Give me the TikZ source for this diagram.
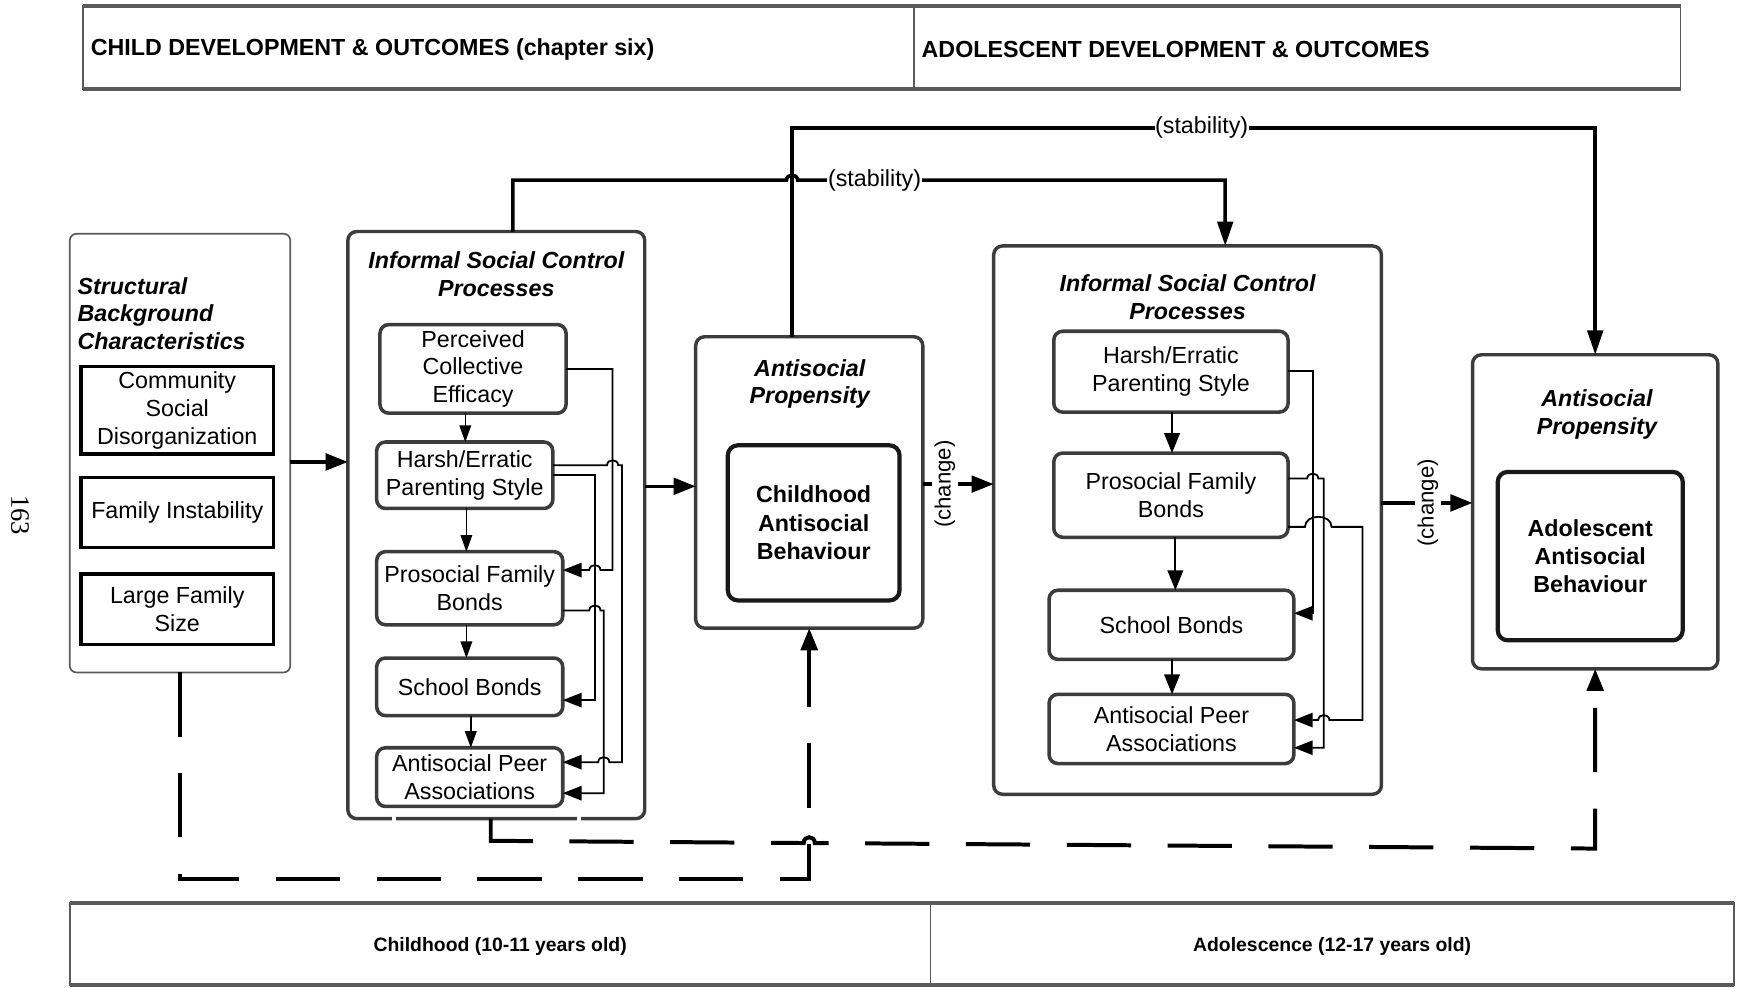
\documentclass[tikz,border=0pt]{standalone}
\usepackage{fontspec}
\setmainfont{Liberation Sans}
\newfontfamily\pagenofont{Liberation Serif}
\usetikzlibrary{arrows.meta}
\definecolor{edge}{HTML}{3C3C3C}
\definecolor{rulegray}{HTML}{5A5A5A}
% small semicircular hop over a crossing vertical line at x=#1 on level y=#2
\newcommand{\hopright}[2]{-- (#1-5,#2) .. controls (#1-5,#2-6) and (#1+5,#2-6) .. (#1+5,#2)}
\newcommand{\hopleft}[2]{-- (#1+5,#2) .. controls (#1+5,#2-6) and (#1-5,#2-6) .. (#1-5,#2)}
\begin{document}
\begin{tikzpicture}[x=1pt,y=-1pt,
  every node/.style={inner sep=0pt, outer sep=0pt},
  body/.style={font=\fontsize{21}{25}\selectfont, align=center},
  heading/.style={font=\fontsize{21}{25}\selectfont\bfseries\itshape, align=center},
  core/.style={font=\fontsize{21}{25.5}\selectfont\bfseries, align=center},
  hdr/.style={font=\fontsize{21}{24}\selectfont\bfseries},
  foot/.style={font=\fontsize{17.5}{21}\selectfont\bfseries},
  cell/.style={draw=rulegray, line width=1.6pt},
  band/.style={draw=rulegray, line width=3.6pt},
  panel/.style={draw=edge, line width=3.1pt, rounded corners=8pt},
  factor/.style={draw=edge, line width=3.2pt, rounded corners=8pt, body},
  bgfactor/.style={draw=black, line width=3.1pt, body},
  corebox/.style={draw=black!90, line width=3.8pt, rounded corners=9pt, core},
  thickline/.style={line width=3.2pt},
  thickarrow/.style={line width=3.2pt, -{Triangle[length=20pt,width=15pt]}},
  feed/.style={line width=1.6pt, -{Triangle[length=17pt,width=13pt]}},
  innerarrow/.style={line width=1.3pt, -{Triangle[length=15pt,width=10.5pt]}},
  stackarrow/.style={line width=2pt, -{Triangle[length=18pt,width=14pt]}},
  dashedlink/.style={line width=3.6pt, dash pattern=on 58pt off 33pt, -{Triangle[length=20pt,width=15pt]}},
  stablbl/.style={font=\fontsize{21}{25}\selectfont, fill=white, inner xsep=0.5pt, inner ysep=2pt},
  changelbl/.style={font=\fontsize{20}{24}\selectfont, rotate=90, fill=white, inner sep=2.5pt}
]
\useasboundingbox (0,0) rectangle (1568,891);

% ---------- period header ----------
\node[cell, minimum width=750pt, minimum height=75pt] (hchild) at (450,42.5) {};
\node[cell, minimum width=692pt, minimum height=75pt] (hadol) at (1171,42.5) {};
\draw[band] (hchild.north west) -- (hadol.north east);
\draw[band] (hchild.south west) -- (hadol.south east);
\node[hdr, anchor=west] (hchildtxt) at ([xshift=7pt,yshift=-2.5pt]hchild.west) {CHILD DEVELOPMENT \& OUTCOMES (chapter six)};
\node[hdr, anchor=west] (hadoltxt) at ([xshift=7pt,yshift=-2.5pt]hadol.west) {ADOLESCENT DEVELOPMENT \& OUTCOMES};

% ---------- age footer ----------
\node[cell, minimum width=777pt, minimum height=74pt] (fchild) at (451.5,852) {};
\node[cell, minimum width=725pt, minimum height=74pt] (fadol) at (1202.5,852) {};
\draw[band] (fchild.north west) -- (fadol.north east);
\draw[band] (fchild.south west) -- (fadol.south east);
\node[foot] (fchildtxt) at ([yshift=-2pt]fchild.center) {Childhood (10-11 years old)};
\node[foot] (fadoltxt) at ([yshift=-2pt]fadol.center) {Adolescence (12-17 years old)};

% ---------- page number ----------
\node[font=\pagenofont\fontsize{24}{24}\selectfont, rotate=-90] (pageno) at (18,465) {163};

% ---------- structural background ----------
\node[draw=rulegray, line width=1.5pt, rounded corners=6pt, minimum width=199pt, minimum height=396pt] (struct) at (162.5,409) {};
\node[heading, align=left, anchor=west] (structttl) at (70,283) {Structural\\Background\\Characteristics};
\node[bgfactor, minimum width=174pt, minimum height=79pt] (csd) at (160,370.5) {Community\\Social\\Disorganization};
\node[bgfactor, minimum width=174pt, minimum height=63pt] (fi) at (160,462.5) {Family Instability};
\node[bgfactor, minimum width=174pt, minimum height=64pt] (lfs) at (160,550) {Large Family\\Size};

% ---------- informal social control, childhood ----------
\node[panel, minimum width=268pt, minimum height=530pt] (isc1) at (448,474) {};
\node[heading] (isc1ttl) at (448,247.5) {Informal Social Control\\Processes};
\node[factor, minimum width=168pt, minimum height=80pt] (pce) at (427,333) {Perceived\\Collective\\Efficacy};
\node[factor, minimum width=159pt, minimum height=60pt] (hps1) at (419.5,429) {Harsh/Erratic\\Parenting Style};
\node[factor, minimum width=168pt, minimum height=66pt] (pfb1) at (424,531) {Prosocial Family\\Bonds};
\node[factor, minimum width=168pt, minimum height=52pt] (sb1) at (424,620) {School Bonds};
\node[factor, minimum width=168pt, minimum height=53pt] (apa1) at (424,701.5) {Antisocial Peer\\Associations};
% small breaks in the lower border
\fill[white] (354,734) rectangle (357.5,743);
\fill[white] (521,734) rectangle (524.5,743);

% ---------- antisocial propensity, childhood ----------
\node[panel, minimum width=205pt, minimum height=263pt] (ap1) at (730.5,435.5) {};
\node[heading] (ap1ttl) at (731,346.5) {Antisocial\\Propensity};
\node[corebox, minimum width=155pt, minimum height=140pt] (cab) at (734.5,472) {Childhood\\Antisocial\\Behaviour};

% ---------- informal social control, adolescence ----------
\node[panel, minimum width=350pt, minimum height=495pt] (isc2) at (1072,469.5) {};
\node[heading] (isc2ttl) at (1072,268) {Informal Social Control\\Processes};
\node[factor, minimum width=211.5pt, minimum height=73pt] (hps2) at (1057,335.5) {Harsh/Erratic\\Parenting Style};
\node[factor, minimum width=211.5pt, minimum height=76pt] (pfb2) at (1057,447) {Prosocial Family\\Bonds};
\node[factor, minimum width=221pt, minimum height=62.4pt] (sb2) at (1057.5,564) {School Bonds};
\node[factor, minimum width=221pt, minimum height=62.5pt] (apa2) at (1057.5,658) {Antisocial Peer\\Associations};

% ---------- antisocial propensity, adolescence ----------
\node[panel, minimum width=221.5pt, minimum height=283.5pt] (ap2) at (1440,462) {};
\node[heading] (ap2ttl) at (1441.5,374) {Antisocial\\Propensity};
\node[corebox, minimum width=167pt, minimum height=152pt] (aab) at (1435.5,502) {Adolescent\\Antisocial\\Behaviour};

% ---------- main flow ----------
\draw[thickarrow] (struct.east |- 0,417) -- (isc1.west |- 0,417);
\draw[thickarrow] (isc1.east |- 0,439) -- (ap1.west |- 0,439);
\draw[thickarrow] (ap1.east |- 0,437) -- node[changelbl, pos=0.31] (chg1) {(change)} (isc2.west |- 0,437);
\draw[thickarrow] (isc2.east |- 0,454) -- node[changelbl, pos=0.51] (chg2) {(change)} (ap2.west |- 0,454);

% ---------- stability paths ----------
\draw[thickline, -{Triangle[length=22pt,width=14pt]}] (isc1.north -| 463,0) -- (463,162.6) \hopright{715}{162.6}
  -- node[stablbl, pos=0.18] (stab1) {(stability)} (1106,162.6) -- (isc2.north -| 1106,0);
\draw[thickline, -{Triangle[length=22pt,width=14pt]}] (ap1.north -| 715,0) -- (715,115.5)
  -- node[stablbl, pos=0.51] (stab2) {(stability)} (1440,115.5) -- (ap2.north);

% ---------- background effects (dashed) ----------
\draw[dashedlink] (struct.south) -- (162.5,793.5) -- (730.5,793.5) -- (ap1.south);
\draw[dashedlink] (isc1.south -| 443,0) -- (443,759) -- (725.5,761) .. controls (725.5,754) and (735.5,754) .. (735.5,761) -- (1440,766) -- (ap2.south);

% ---------- childhood control processes ----------
\draw[innerarrow] (pce.south -| 420,0) -- (hps1.north -| 420,0);
\draw[innerarrow] (hps1.south -| 421,0) -- (pfb1.north -| 421,0);
\draw[innerarrow] (pfb1.south -| 421,0) -- (sb1.north -| 421,0);
\draw[innerarrow] (sb1.south -| 425,0) -- (apa1.north -| 425,0);
\draw[feed] (pce.east) -- (553,333) -- (553,514.6) \hopleft{537}{514.6} -- (pfb1.east |- 0,514.6);
\draw[feed] (hps1.east |- 0,420) \hopright{553}{420} -- (561.5,420) -- (561.5,688) \hopleft{545}{688} -- (apa1.east |- 0,688);
\draw[feed] (hps1.east |- 0,429) -- (537,429) -- (537,632) -- (sb1.east |- 0,632);
\draw[feed] (pfb1.east |- 0,551) \hopright{537}{551} -- (545,551) -- (545,716) -- (apa1.east |- 0,716);

% ---------- adolescent control processes ----------
\draw[stackarrow] (hps2.south -| 1058,0) -- (pfb2.north -| 1058,0);
\draw[stackarrow] (pfb2.south -| 1061,0) -- (sb2.north -| 1061,0);
\draw[stackarrow] (sb2.south -| 1058,0) -- (apa2.north -| 1058,0);
\draw[feed] (hps2.east |- 0,335) -- (1185,335) -- (1185,553.6) -- (sb2.east |- 0,553.6);
\draw[feed] (pfb2.east |- 0,432) \hopright{1185}{432} -- (1195,432) -- (1195,675) -- (apa2.east |- 0,675);
\draw[feed] (pfb2.east |- 0,475.6) -- (1178,475.6) .. controls (1178,463.5) and (1202,463.5) .. (1202,475.6)
  -- (1230,475.6) -- (1230,650) \hopleft{1195}{650} -- (apa2.east |- 0,650);
\end{tikzpicture}
\end{document}
